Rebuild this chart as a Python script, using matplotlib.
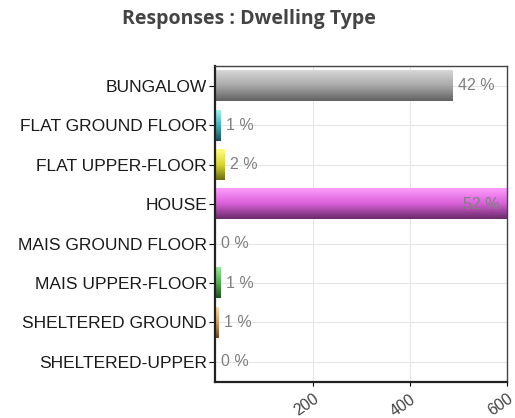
import numpy as np
import matplotlib
matplotlib.use('Agg')
import matplotlib.pyplot as plt
from matplotlib.colors import LinearSegmentedColormap

categories = ['BUNGALOW', 'FLAT GROUND FLOOR', 'FLAT UPPER-FLOOR', 'HOUSE',
              'MAIS GROUND FLOOR', 'MAIS UPPER-FLOOR', 'SHELTERED GROUND', 'SHELTERED-UPPER']
counts = [488, 12, 20, 600, 1, 12, 8, 1]
pct_labels = ['42 %', '1 %', '2 %', '52 %', '0 %', '1 %', '1 %', '0 %']
# light (top) / mid / dark (bottom) colour of each bar's shading
bar_light = ['#d8d8d8', '#9ff0f0', '#ffff80', '#ff9cff', '#dddddd', '#9be89b', '#ffd9a0', '#dddddd']
bar_mid = ['#a8a8a8', '#40b0b8', '#d8d830', '#d860d8', '#999999', '#50b050', '#d0a060', '#999999']
bar_dark = ['#626262', '#1d4f55', '#6d6d10', '#6a2a6a', '#555555', '#205020', '#6a4a20', '#555555']
xticks = [200, 400, 600]

fig = plt.figure(figsize=(5.15, 4.18), dpi=100)
ax = fig.add_axes([0.418, 0.087, 0.567, 0.755])

y = np.arange(len(categories))
bh = 0.78
grad = np.linspace(0, 1, 64).reshape(-1, 1)
for i, (v, c1, c2, c3) in enumerate(zip(counts, bar_light, bar_mid, bar_dark)):
    cmap = LinearSegmentedColormap.from_list('b%d' % i, [c1, c2, c3])
    ax.imshow(grad, cmap=cmap, aspect='auto', interpolation='bilinear',
              extent=[0, v, y[i] + bh / 2, y[i] - bh / 2], zorder=2)
    tx = min(v + 10, 510)
    ax.text(tx, y[i], pct_labels[i], va='center', ha='left', fontsize=11.5,
            color='#808080', family='Liberation Sans', zorder=3)

ax.set_xlim(0, 600)
ax.set_ylim(len(categories) - 0.5, -0.5)
ax.set_yticks(y)
ax.set_yticklabels(categories, family='Liberation Sans', fontsize=12.5, color='#1a1a1a')
ax.set_xticks(xticks)
ax.set_xticklabels([str(t) for t in xticks], rotation=35, family='Liberation Sans',
                   fontsize=11.5, color='#444444', ha='right', rotation_mode='anchor')
ax.tick_params(axis='x', length=3, pad=4)
ax.tick_params(axis='y', length=4, pad=2)
ax.grid(True, color='#e6e6e6', linewidth=0.8, zorder=0)
ax.set_axisbelow(True)
for s in ['left', 'bottom']:
    ax.spines[s].set_linewidth(1.6)
    ax.spines[s].set_color('#222222')
for s in ['top', 'right']:
    ax.spines[s].set_linewidth(1.0)
    ax.spines[s].set_color('#444444')

fig.text(0.483, 0.955, 'Responses : Dwelling Type', ha='center', va='center',
         fontsize=14, fontweight='bold', family='Open Sans', color='#444444')

fig.savefig('out.png', dpi=100)
